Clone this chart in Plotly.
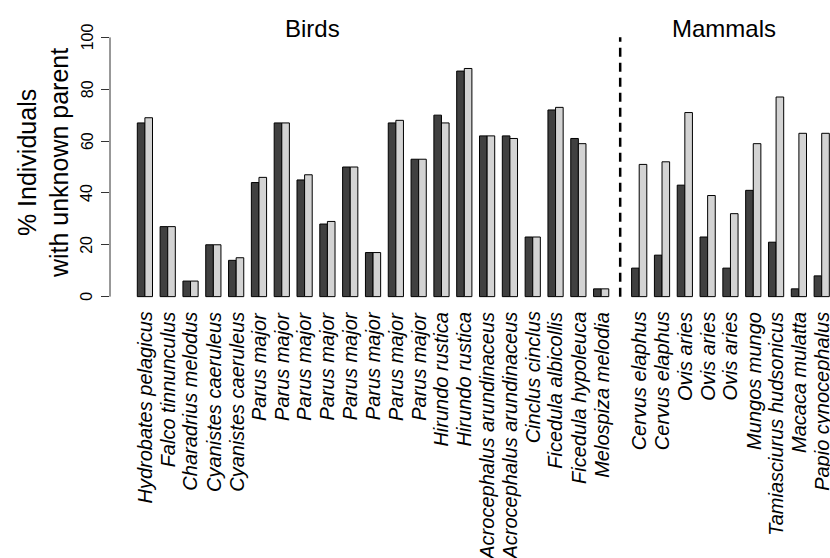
import plotly.graph_objects as go

bird_names = ["Hydrobates pelagicus", "Falco tinnunculus", "Charadrius melodus",
              "Cyanistes caeruleus", "Cyanistes caeruleus",
              "Parus major", "Parus major", "Parus major", "Parus major",
              "Parus major", "Parus major", "Parus major", "Parus major",
              "Hirundo rustica", "Hirundo rustica",
              "Acrocephalus arundinaceus", "Acrocephalus arundinaceus",
              "Cinclus cinclus", "Ficedula albicollis", "Ficedula hypoleuca",
              "Melospiza melodia"]
bird_dark = [67, 27, 6, 20, 14, 44, 67, 45, 28, 50, 17, 67, 53, 70, 87, 62, 62, 23, 72, 61, 3]
bird_light = [69, 27, 6, 20, 15, 46, 67, 47, 29, 50, 17, 68, 53, 67, 88, 62, 61, 23, 73, 59, 3]

mammal_names = ["Cervus elaphus", "Cervus elaphus", "Ovis aries", "Ovis aries",
                "Ovis aries", "Mungos mungo", "Tamiasciurus hudsonicus",
                "Macaca mulatta", "Papio cynocephalus"]
mammal_dark = [11, 16, 43, 23, 11, 41, 21, 3, 8]
mammal_light = [51, 52, 71, 39, 32, 59, 77, 63, 63]

y_ticks = [0, 20, 40, 60, 80, 100]
group_titles = ["Birds", "Mammals"]
y_title = "% Individuals<br>with unknown parent"

FONT = "Liberation Sans, Arial, Helvetica, sans-serif"
DARK = "#404040"
LIGHT = "#d3d3d3"

# group start positions (R barplot style, space = c(0, 1), extra gap between groups)
starts = [1 + 3 * i for i in range(len(bird_names))]
last = starts[-1]
starts += [last + 5 + 3 * j for j in range(len(mammal_names))]
names = bird_names + mammal_names
dark = bird_dark + mammal_dark
light = bird_light + mammal_light

fig = go.Figure()
fig.add_trace(go.Bar(x=[s + 0.5 for s in starts], y=dark, width=1,
                     marker=dict(color=DARK, line=dict(color="black", width=1)),
                     showlegend=False, hoverinfo="skip"))
fig.add_trace(go.Bar(x=[s + 1.5 for s in starts], y=light, width=1,
                     marker=dict(color=LIGHT, line=dict(color="black", width=1)),
                     showlegend=False, hoverinfo="skip"))

annotations = []
for s, n in zip(starts, names):
    annotations.append(dict(x=s + 1, y=0, xref="x", yref="y", text=n,
                            textangle=-90, xanchor="center", yanchor="top",
                            yshift=-13, showarrow=False,
                            font=dict(family=FONT, size=20, color="black", style="italic")))
for v in y_ticks:
    annotations.append(dict(x=0, y=v, xref="paper", yref="y", text=str(v),
                            textangle=-90, xanchor="center", yanchor="middle",
                            xshift=-23, showarrow=False,
                            font=dict(family=FONT, size=16, color="black")))
annotations.append(dict(x=0, y=51.5, xref="paper", yref="y", text=y_title,
                        textangle=-90, xanchor="center", yanchor="middle",
                        xshift=-67, showarrow=False,
                        font=dict(family=FONT, size=25, color="black")))
bird_mid = 24.1
mammal_mid = 78.15
for xm, t in zip([bird_mid, mammal_mid], group_titles):
    annotations.append(dict(x=xm, y=103.6, xref="x", yref="y", text=t,
                            xanchor="center", yanchor="middle", showarrow=False,
                            font=dict(family=FONT, size=24, color="black")))

sep_x = (starts[len(bird_names) - 1] + 2 + starts[len(bird_names)]) / 2
shapes = [
    dict(type="line", xref="paper", yref="y", x0=0, x1=0, y0=0, y1=100,
         line=dict(color="#333333", width=1)),
    dict(type="line", xref="x", yref="y", x0=sep_x, x1=sep_x, y0=0, y1=100,
         line=dict(color="black", width=2.5, dash="9px,6px")),
]

fig.update_layout(
    width=830, height=558,
    margin=dict(l=110, r=0, t=27, b=251, autoexpand=False),
    paper_bgcolor="white", plot_bgcolor="white",
    barmode="overlay",
    xaxis=dict(range=[-2.59, 92.09], visible=False),
    yaxis=dict(range=[-4, 104], tickvals=y_ticks, showticklabels=False,
               ticks="outside", ticklen=8, tickcolor="#333333", tickwidth=1,
               showgrid=False, zeroline=False, showline=False),
    annotations=annotations,
    shapes=shapes,
    font=dict(family=FONT),
    hovermode=False,
)

fig.write_html("out.html",
               config={"displayModeBar": False},
               post_script="document.body.style.margin='0px';"
                           "document.body.style.overflow='hidden';")
